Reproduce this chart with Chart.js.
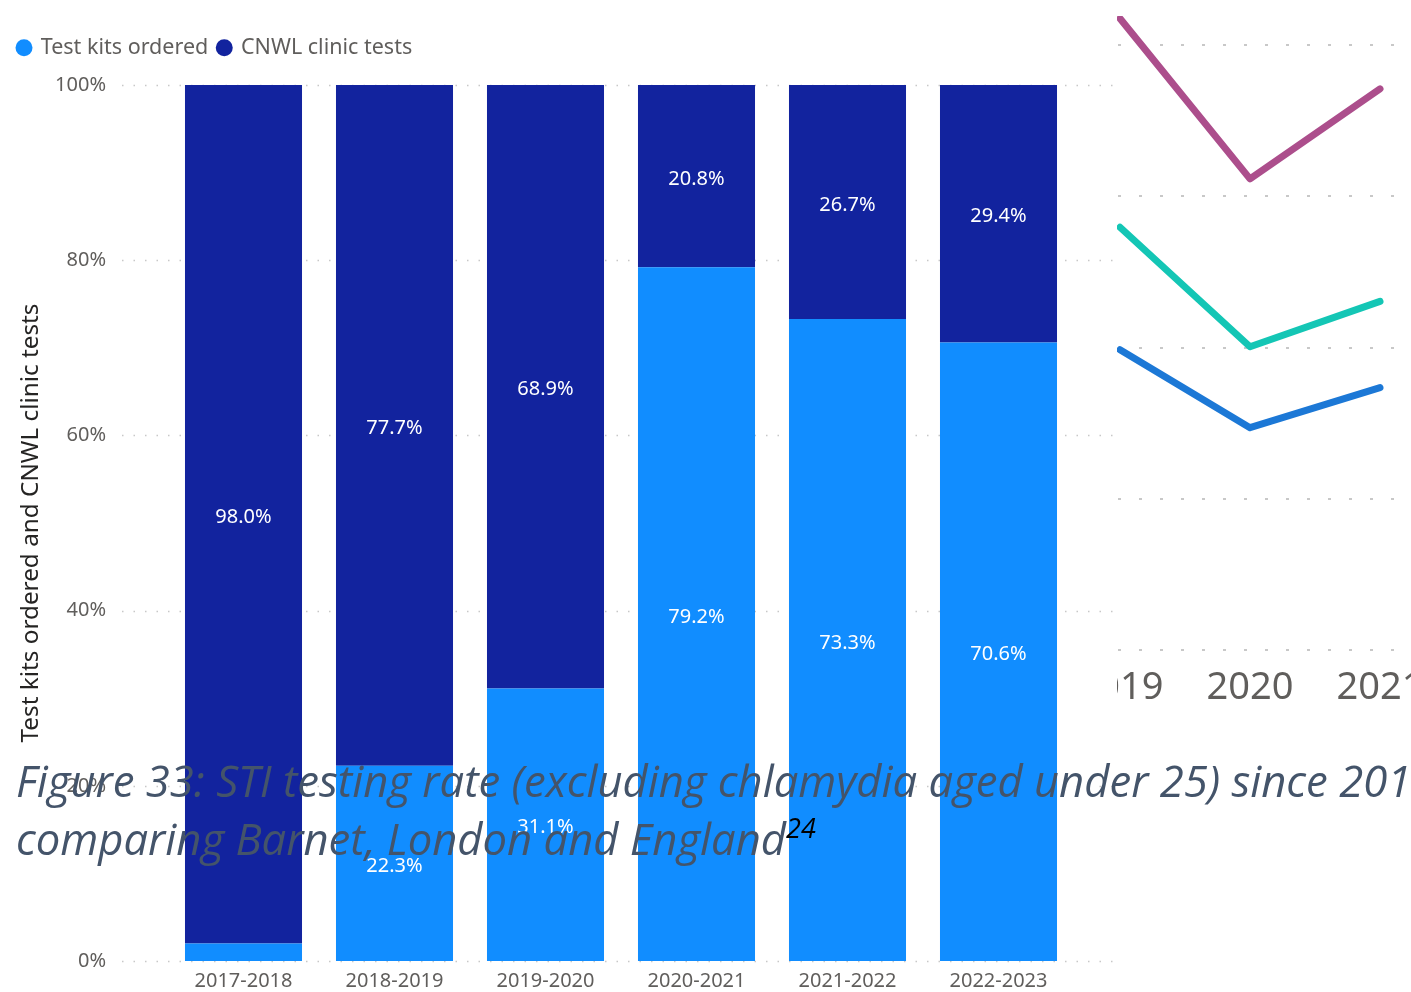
<!DOCTYPE html>
<html>
<head>
<meta charset="utf-8">
<script src="https://cdn.jsdelivr.net/npm/chart.js@4/dist/chart.umd.min.js"></script>
<style>
html, body { margin: 0; padding: 0; background: #fff; overflow: hidden; }
#page { position: relative; width: 1411px; height: 992px; overflow: hidden; }
#bars { position: absolute; left: 0; top: 0; }
#linebox { position: absolute; left: 1117px; top: 16px; width: 294px; height: 704px; overflow: hidden; background: #fff; }
#lines { position: absolute; left: -62px; top: -16px; }
#caption { position: absolute; left: 16px; top: 751px; font-family: "Open Sans"; font-style: italic;
  font-size: 43.6px; line-height: 58px; color: #44546A; white-space: nowrap; }
#caption .ref { position: relative; top: -17px; font-size: 27px; color: #000; }
</style>
</head>
<body>
<div id="page">
  <canvas id="bars" width="1411" height="992"></canvas>
  <div id="linebox"><canvas id="lines" width="390" height="720"></canvas></div>
  <div id="caption">Figure 33: STI testing rate (excluding chlamydia aged under 25) since 2012<br>comparing Barnet, London and England<span class="ref">24</span></div>
</div>
<script>
// bar chart data
const years = ['2017-2018', '2018-2019', '2019-2020', '2020-2021', '2021-2022', '2022-2023'];
const kitsOrdered = [2.0, 22.3, 31.1, 79.2, 73.3, 70.6];
const clinicTests = [98.0, 77.7, 68.9, 20.8, 26.7, 29.4];
const yTicks = [0, 20, 40, 60, 80, 100];

// line chart fragment data (rate per 100,000)
const lineYears = ['2019', '2020', '2021'];
const londonRate = [8350, 6230, 7420];
const englandRate = [5590, 4010, 4610];
const barnetRate = [3970, 2940, 3470];
const lineTicks = [0, 2000, 4000, 6000, 8000];

const greyText = '#605E5C';
Chart.defaults.font.family = '"Noto Sans", sans-serif';

// dotted grid that runs a bit past the plot on both sides
const dottedGrid = {
  id: 'dottedGrid',
  beforeDatasetsDraw(chart) {
    const ctx = chart.ctx, y = chart.scales.y, a = chart.chartArea;
    ctx.save();
    ctx.strokeStyle = '#c8c8c8';
    ctx.lineWidth = 1.5;
    ctx.setLineDash([1.5, 10]);
    y.ticks.forEach(t => {
      const py = Math.round(y.getPixelForValue(t.value)) + 0.5;
      ctx.beginPath();
      ctx.moveTo(a.left - 46, py);
      ctx.lineTo(a.right + 43, py);
      ctx.stroke();
    });
    ctx.restore();
  }
};

// white % labels in the middle of each segment
const barLabels = {
  id: 'barLabels',
  afterDatasetsDraw(chart) {
    const ctx = chart.ctx;
    ctx.save();
    ctx.fillStyle = '#fff';
    ctx.font = '20px "Noto Sans"';
    ctx.textAlign = 'center';
    ctx.textBaseline = 'middle';
    chart.data.datasets.forEach((ds, i) => {
      chart.getDatasetMeta(i).data.forEach((bar, j) => {
        const h = Math.abs(bar.base - bar.y);
        if (h < 30) return;
        ctx.fillText(ds.data[j].toFixed(1) + '%', bar.x, (bar.y + bar.base) / 2 + 3);
      });
    });
    ctx.restore();
  }
};

// fixed legend block height, so the plot starts under it
const legendGap = {
  id: 'legendGap',
  beforeInit(chart) {
    const fit = chart.legend.fit;
    chart.legend.fit = function () {
      fit.bind(chart.legend)();
      this.height = 58;
    };
  }
};

new Chart(document.querySelector('#bars'), {
  type: 'bar',
  data: {
    labels: years,
    datasets: [
      { label: 'Test kits ordered', data: kitsOrdered, backgroundColor: '#118DFF' },
      { label: 'CNWL clinic tests', data: clinicTests, backgroundColor: '#12239E' }
    ]
  },
  options: {
    responsive: false,
    animation: false,
    layout: { padding: { top: 27, right: 337, left: 8, bottom: 0 } },
    datasets: { bar: { barPercentage: 0.775, categoryPercentage: 1, borderWidth: 0 } },
    plugins: {
      legend: {
        position: 'top',
        align: 'start',
        labels: {
          usePointStyle: true,
          pointStyle: 'circle',
          boxWidth: 12,
          boxHeight: 12,
          color: greyText,
          font: { size: 21.5 },
          padding: 10
        }
      },
      tooltip: { enabled: false }
    },
    scales: {
      x: {
        stacked: true,
        grid: { display: false, drawTicks: false },
        border: { display: false },
        ticks: { color: greyText, font: { size: 20 }, padding: 8, maxRotation: 0 },
        afterFit: s => { s.height = 31; }
      },
      y: {
        stacked: true,
        min: 0,
        max: 100,
        afterBuildTicks: s => { s.ticks = yTicks.map(v => ({ value: v })); },
        grid: { display: false, drawTicks: true, tickLength: 56 },
        border: { display: false },
        ticks: { color: greyText, font: { size: 20 }, padding: 6, callback: v => v + '%' },
        title: {
          display: true,
          text: 'Test kits ordered and CNWL clinic tests',
          color: '#252423',
          font: { size: 24.3 },
          padding: { top: 8, bottom: 10 }
        },
        afterFit: s => { s.width = 160; }
      }
    }
  },
  plugins: [dottedGrid, barLabels, legendGap]
});

// right-hand line chart fragment
new Chart(document.querySelector('#lines'), {
  type: 'line',
  data: {
    labels: lineYears,
    datasets: [
      { label: 'London', data: londonRate, borderColor: '#AC4E8C' },
      { label: 'England', data: englandRate, borderColor: '#14C6B5' },
      { label: 'Barnet', data: barnetRate, borderColor: '#1C78D6' }
    ]
  },
  options: {
    responsive: false,
    animation: false,
    layout: { padding: { top: 45, left: 0, right: 0, bottom: 0 } },
    elements: {
      line: { borderWidth: 7, tension: 0, borderCapStyle: 'round', borderJoinStyle: 'round' },
      point: { radius: 0 }
    },
    datasets: { line: { clip: false } },
    plugins: { legend: { display: false }, tooltip: { enabled: false } },
    scales: {
      x: {
        offset: true,
        grid: { display: false, drawTicks: false },
        border: { display: false },
        ticks: { color: greyText, font: { size: 38 }, padding: 15, maxRotation: 0 },
        afterFit: s => { s.height = 70; }
      },
      y: {
        min: 0,
        max: 8000,
        afterBuildTicks: s => { s.ticks = lineTicks.map(v => ({ value: v })); },
        grid: { color: '#c8c8c8', lineWidth: 2, drawTicks: false },
        border: { display: false, dash: [3, 18] },
        ticks: { display: false },
        afterFit: s => { s.width = 0; }
      }
    }
  }
});
</script>
</body>
</html>
